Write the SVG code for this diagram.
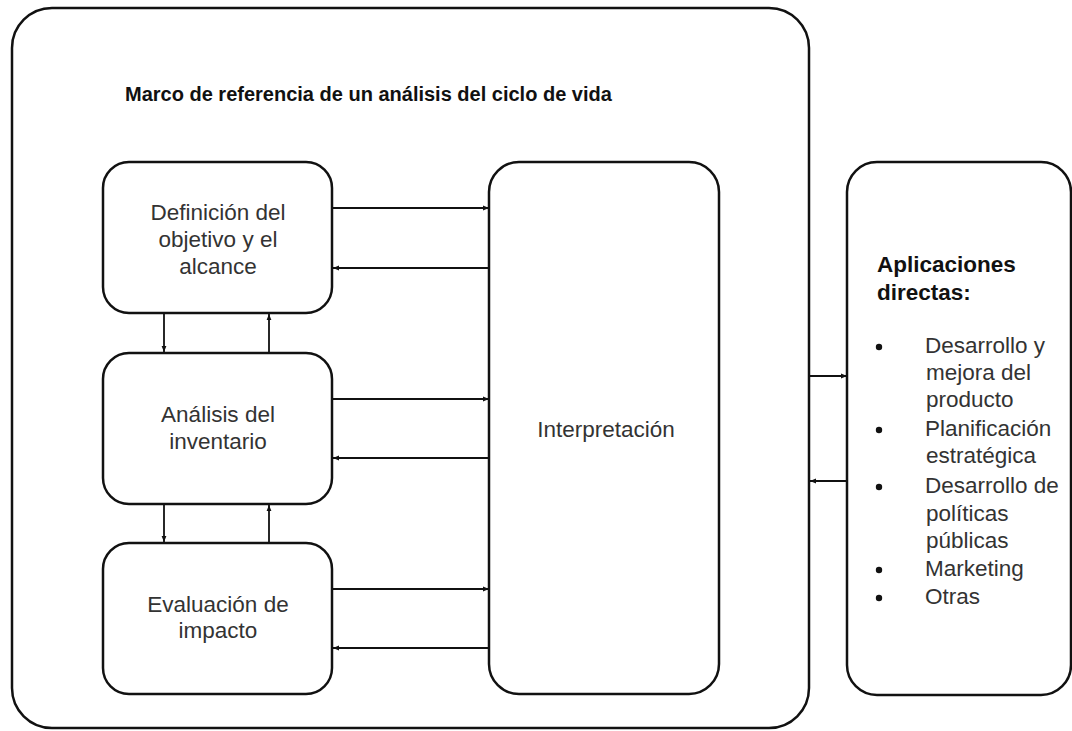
<svg xmlns="http://www.w3.org/2000/svg" width="1072" height="731" viewBox="0 0 1072 731">
<defs>
<style>
.box{fill:#fff;stroke:#111;stroke-width:2.5}
.con{stroke:#111;stroke-width:1.8;fill:none}
.t{font-family:"Liberation Sans",Arial,sans-serif;font-size:22.5px;fill:#333;text-anchor:middle}
.tl{font-family:"Liberation Sans",Arial,sans-serif;font-size:22.5px;fill:#333}
.b{font-family:"Liberation Sans",Arial,sans-serif;font-weight:bold;fill:#111}
</style>
<marker id="ah" viewBox="0 0 10 10" refX="10" refY="5" markerWidth="10" markerHeight="6" markerUnits="userSpaceOnUse" orient="auto">
<path d="M0,1 L10,5 L0,9 Z" fill="#111"/>
</marker>
</defs>
<rect width="1072" height="731" fill="#fff"/>
<g id="marco">
<rect class="box" x="12" y="8" width="797" height="720" rx="40" ry="40"/>
<text class="b" x="125" y="101" font-size="20">Marco de referencia de un análisis del ciclo de vida</text>
</g>
<g id="definicion">
<rect class="box" x="103" y="162" width="229" height="151" rx="26" ry="26"/>
<text class="t" x="218" y="220">Definición del</text>
<text class="t" x="218" y="247">objetivo y el</text>
<text class="t" x="218" y="274">alcance</text>
</g>
<g id="inventario">
<rect class="box" x="103" y="353" width="229" height="151" rx="26" ry="26"/>
<text class="t" x="218" y="422">Análisis del</text>
<text class="t" x="218" y="449">inventario</text>
</g>
<g id="evaluacion">
<rect class="box" x="103" y="543" width="229" height="151" rx="26" ry="26"/>
<text class="t" x="218" y="612">Evaluación de</text>
<text class="t" x="218" y="638">impacto</text>
</g>
<g id="interpretacion">
<rect class="box" x="489" y="162" width="230" height="532" rx="30" ry="30"/>
<text class="t" x="606" y="437">Interpretación</text>
</g>
<g id="aplicaciones">
<rect class="box" x="847" y="162" width="224" height="533" rx="30" ry="30"/>
<text class="b" x="877" y="272" font-size="22.5">Aplicaciones</text>
<text class="b" x="877" y="300" font-size="22.5">directas:</text>
<g fill="#111">
<circle cx="879" cy="347" r="3.2"/>
<circle cx="879" cy="430" r="3.2"/>
<circle cx="879" cy="487" r="3.2"/>
<circle cx="879" cy="570" r="3.2"/>
<circle cx="879" cy="598" r="3.2"/>
</g>
<text class="tl" x="925" y="353">Desarrollo y</text>
<text class="tl" x="926" y="380">mejora del</text>
<text class="tl" x="926" y="407">producto</text>
<text class="tl" x="925" y="436">Planificación</text>
<text class="tl" x="926" y="463">estratégica</text>
<text class="tl" x="925" y="493">Desarrollo de</text>
<text class="tl" x="926" y="521">políticas</text>
<text class="tl" x="926" y="548">públicas</text>
<text class="tl" x="925" y="576">Marketing</text>
<text class="tl" x="925" y="604">Otras</text>
</g>
<g id="connectors">
<line class="con" x1="332" y1="208" x2="489" y2="208" marker-end="url(#ah)"/>
<line class="con" x1="489" y1="268" x2="333" y2="268" marker-end="url(#ah)"/>
<line class="con" x1="332" y1="399" x2="489" y2="399" marker-end="url(#ah)"/>
<line class="con" x1="489" y1="458" x2="333" y2="458" marker-end="url(#ah)"/>
<line class="con" x1="332" y1="589" x2="489" y2="589" marker-end="url(#ah)"/>
<line class="con" x1="489" y1="648" x2="333" y2="648" marker-end="url(#ah)"/>
<line class="con" x1="164" y1="313" x2="164" y2="352" marker-end="url(#ah)"/>
<line class="con" x1="269" y1="353" x2="269" y2="314" marker-end="url(#ah)"/>
<line class="con" x1="164" y1="504" x2="164" y2="542" marker-end="url(#ah)"/>
<line class="con" x1="269" y1="543" x2="269" y2="505" marker-end="url(#ah)"/>
<line class="con" x1="809" y1="376" x2="847" y2="376" marker-end="url(#ah)"/>
<line class="con" x1="847" y1="481" x2="810" y2="481" marker-end="url(#ah)"/>
</g>
</svg>
